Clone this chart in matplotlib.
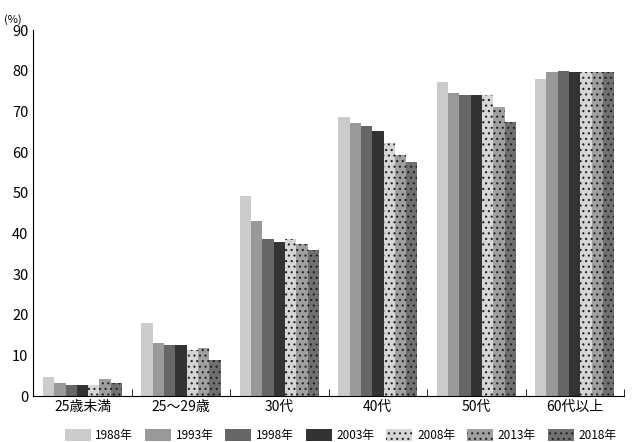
import numpy as np
import matplotlib
matplotlib.use("Agg")
import matplotlib.pyplot as plt

plt.rcParams['font.family'] = ['Noto Sans CJK JP', 'DejaVu Sans']
plt.rcParams['hatch.linewidth'] = 0.8

categories = ["25歳未満", "25～29歳", "30代", "40代", "50代", "60代以上"]
years = ["1988年", "1993年", "1998年", "2003年", "2008年", "2013年", "2018年"]
values = {
    "1988年": [4.6, 18.0, 49.3, 68.7, 77.2, 78.0],
    "1993年": [3.1, 13.1, 43.0, 67.2, 74.6, 79.6],
    "1998年": [2.6, 12.6, 38.7, 66.3, 74.0, 80.0],
    "2003年": [2.6, 12.6, 38.0, 65.1, 74.0, 79.7],
    "2008年": [2.6, 11.3, 38.7, 62.2, 74.0, 79.7],
    "2013年": [4.1, 11.8, 37.5, 59.2, 71.2, 79.7],
    "2018年": [3.1, 8.8, 36.0, 57.5, 67.4, 79.7],
}
colors = ["#cccccc", "#999999", "#666666", "#333333", "#d6d6d6", "#a0a0a0", "#707070"]
hatches = [None, None, None, None, "...", "...", "..."]

fig, ax = plt.subplots(figsize=(6.4, 4.42), dpi=100)
fig.subplots_adjust(left=0.052, right=0.975, top=0.932, bottom=0.104)
x = np.arange(len(categories))
w = 0.115
for i, y in enumerate(years):
    ax.bar(x + (i - 3) * w, values[y], w, color=colors[i], hatch=hatches[i],
           edgecolor="#222222" if hatches[i] else colors[i], linewidth=0,
           label=y)

ax.set_xlim(-0.5, len(categories) - 0.5)
ax.set_ylim(0, 90)
ax.set_yticks(range(0, 91, 10))
ax.set_xticks(np.arange(len(categories) + 1) - 0.5, minor=True)
ax.set_xticks(x)
ax.set_xticklabels(categories, fontsize=10)
ax.tick_params(axis="x", which="major", length=0, pad=3)
ax.tick_params(axis="x", which="minor", direction="in", length=5)
ax.tick_params(axis="y", length=0, labelsize=10.5)
for s in ("top", "right"):
    ax.spines[s].set_visible(False)
ax.text(-0.05, 1.02, "(%)", transform=ax.transAxes, fontsize=8, ha="left")
ax.legend(loc="upper center", bbox_to_anchor=(0.52, -0.06), ncol=7,
          frameon=False, fontsize=8.5, handlelength=2.2, handleheight=1.2,
          columnspacing=1.0, handletextpad=0.4)
fig.savefig("out.png", dpi=100)
